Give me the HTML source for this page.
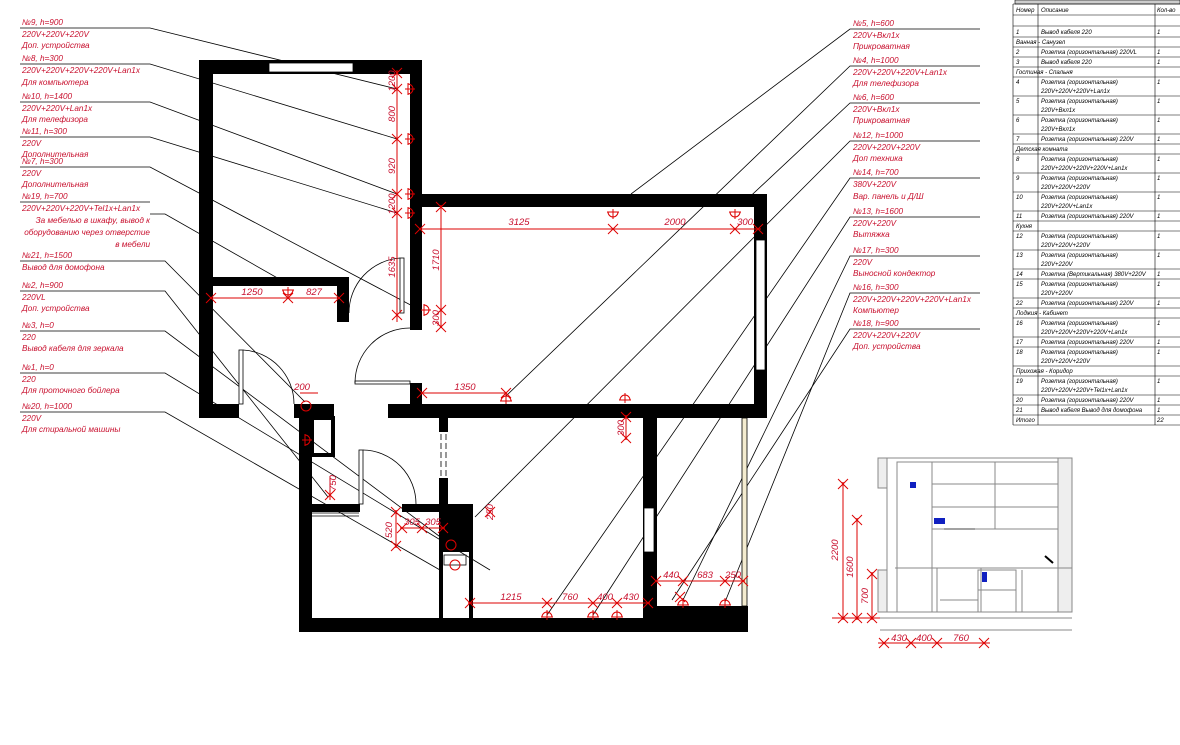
<!DOCTYPE html>
<html><head><meta charset="utf-8"><style>
html,body{margin:0;padding:0;background:#fff}
svg{display:block}
.t{font-family:"Liberation Sans","DejaVu Sans",sans-serif;font-style:italic;font-size:8.2px;fill:#c8102e}
.d{font-family:"Liberation Sans","DejaVu Sans",sans-serif;font-style:italic;font-size:9.5px;fill:#c8102e}
.tb{font-family:"Liberation Sans","DejaVu Sans",sans-serif;font-style:italic;font-size:6px;fill:#000}
</style></head><body>
<svg width="1180" height="745" viewBox="0 0 1180 745" xmlns="http://www.w3.org/2000/svg">
<defs>
<g id="x"><line x1="-5" y1="-5" x2="5" y2="5" stroke="#d00" stroke-width="1"/><line x1="-5" y1="5" x2="5" y2="-5" stroke="#d00" stroke-width="1"/></g>
<g id="s"><path d="M-5,0 A5,5 0 0 1 5,0 Z" fill="none" stroke="#d00" stroke-width="1"/><line x1="-6" y1="0" x2="6" y2="0" stroke="#d00"/><line x1="0" y1="-7" x2="0" y2="3" stroke="#d00"/></g>
</defs>

<g stroke="#000" stroke-width="0.8" fill="none">
<polyline points="20,28 150,28 397,89"/>
<polyline points="20,64 150,64 397,139"/>
<polyline points="20,102 150,102 397,194"/>
<polyline points="20,137 150,137 397,213"/>
<polyline points="20,167 150,167 420,310"/>
<polyline points="20,202 150,202"/><polyline points="150,214 165,214 288,284"/>
<polyline points="20,261 165,261 305,402"/>
<polyline points="20,291 165,291 328,497"/>
<polyline points="20,331 165,331 447,542"/>
<polyline points="20,373 165,373 490,570"/>
<polyline points="20,412 165,412 440,570"/>
<polyline points="980,29 850,29 631,194"/>
<polyline points="980,66 850,66 506,396"/>
<polyline points="980,103 850,103 740,206"/>
<polyline points="980,141 850,141 475,517"/>
<polyline points="980,178 850,178 547,615"/>
<polyline points="980,217 850,217 593,615"/>
<polyline points="980,256 850,256 683,600"/>
<polyline points="980,293 850,293 725,602"/>
<polyline points="980,329 850,329 672,600"/>
</g>

<g class="t">
<text x="22" y="25">№9,  h=900</text><text x="22" y="37">220V+220V+220V</text><text x="22" y="48">Доп. устройства</text>
<text x="22" y="61">№8,  h=300</text><text x="22" y="73">220V+220V+220V+220V+Lan1x</text><text x="22" y="85">Для компьютера</text>
<text x="22" y="99">№10,  h=1400</text><text x="22" y="111">220V+220V+Lan1x</text><text x="22" y="122">Для телефизора</text>
<text x="22" y="134">№11,  h=300</text><text x="22" y="146">220V</text><text x="22" y="157">Дополнительная</text>
<text x="22" y="164">№7,  h=300</text><text x="22" y="176">220V</text><text x="22" y="187">Дополнительная</text>
<text x="22" y="199">№19,  h=700</text><text x="22" y="211">220V+220V+220V+Tel1x+Lan1x</text>
<text x="150" y="223" text-anchor="end">За мебелью в шкафу, вывод к</text>
<text x="150" y="235" text-anchor="end">оборудованию через отверстие</text>
<text x="150" y="247" text-anchor="end">в мебели</text>
<text x="22" y="258">№21,  h=1500</text><text x="22" y="270">Вывод для домофона</text>
<text x="22" y="288">№2,  h=900</text><text x="22" y="300">220VL</text><text x="22" y="311">Доп. устройства</text>
<text x="22" y="328">№3,  h=0</text><text x="22" y="340">220</text><text x="22" y="351">Вывод кабеля для зеркала</text>
<text x="22" y="370">№1,  h=0</text><text x="22" y="382">220</text><text x="22" y="393">Для проточного бойлера</text>
<text x="22" y="409">№20,  h=1000</text><text x="22" y="421">220V</text><text x="22" y="432">Для стиральной машины</text>
</g>
<g class="t">
<text x="853" y="26">№5,  h=600</text><text x="853" y="38">220V+Вкл1х</text><text x="853" y="49">Прикроватная</text>
<text x="853" y="63">№4,  h=1000</text><text x="853" y="75">220V+220V+220V+Lan1x</text><text x="853" y="86">Для телефизора</text>
<text x="853" y="100">№6,  h=600</text><text x="853" y="112">220V+Вкл1х</text><text x="853" y="123">Прикроватная</text>
<text x="853" y="138">№12,  h=1000</text><text x="853" y="150">220V+220V+220V</text><text x="853" y="161">Доп техника</text>
<text x="853" y="175">№14,  h=700</text><text x="853" y="187">380V+220V</text><text x="853" y="199">Вар. панель и Д/Ш</text>
<text x="853" y="214">№13,  h=1600</text><text x="853" y="226">220V+220V</text><text x="853" y="237">Вытяжка</text>
<text x="853" y="253">№17,  h=300</text><text x="853" y="265">220V</text><text x="853" y="276">Выносной кондектор</text>
<text x="853" y="290">№16,  h=300</text><text x="853" y="302">220V+220V+220V+220V+Lan1x</text><text x="853" y="313">Компьютер</text>
<text x="853" y="326">№18,  h=900</text><text x="853" y="338">220V+220V+220V</text><text x="853" y="349">Доп. устройства</text>
</g>

<g fill="#000">
<rect x="199" y="60" width="223" height="14"/>
<rect x="199" y="60" width="14" height="358"/>
<rect x="410" y="60" width="12" height="270"/>
<rect x="213" y="277" width="132" height="9"/>
<rect x="337" y="277" width="12" height="45"/>
<rect x="199" y="404" width="40" height="14"/>
<rect x="294" y="404" width="40" height="14"/>
<rect x="410" y="194" width="357" height="13"/>
<rect x="754" y="194" width="13" height="224"/>
<rect x="410" y="383" width="12" height="22"/>
<rect x="388" y="404" width="379" height="14"/>
<rect x="299" y="404" width="13" height="228"/>
<rect x="299" y="618" width="449" height="14"/>
<rect x="657" y="606" width="91" height="26"/>
<rect x="643" y="418" width="14" height="200"/>
<rect x="312" y="418" width="21" height="37" fill="none" stroke="#000" stroke-width="4"/>
<rect x="312" y="504" width="48" height="8"/>
<rect x="402" y="504" width="46" height="8"/>
<rect x="439" y="418" width="9" height="14"/>
<rect x="439" y="478" width="9" height="26"/>
<rect x="439" y="504" width="34" height="48"/>
<rect x="469" y="552" width="4" height="66"/>
<rect x="439" y="552" width="4" height="66"/>
</g>
<g fill="#fff" stroke="#000" stroke-width="0.8">
<rect x="269" y="63" width="84" height="9"/>
<rect x="756" y="240" width="9" height="130"/>
<rect x="644" y="508" width="10" height="44"/>
<rect x="742" y="418" width="5" height="188" fill="#f4ecd0"/>
<rect x="239" y="350" width="4" height="54"/>
<rect x="400" y="258" width="4" height="55"/>
<rect x="355" y="381" width="55" height="3"/>
<rect x="359" y="450" width="4" height="54"/>
</g>
<g stroke="#000" stroke-width="0.8" fill="none">
<path d="M243,350 A54,54 0 0 1 294,404"/>
<path d="M349,313 A55,55 0 0 1 400,258"/>
<path d="M355,383 A55,55 0 0 1 410,328"/>
<path d="M363,450 A54,54 0 0 1 416,504"/>
<line x1="441" y1="434" x2="441" y2="476" stroke-dasharray="6,3"/>
<line x1="446" y1="434" x2="446" y2="476" stroke-dasharray="6,3"/>
<line x1="312" y1="513" x2="359" y2="513"/><line x1="312" y1="516" x2="359" y2="516"/>
<rect x="444" y="555" width="22" height="10"/>
</g>

<g stroke="#d00" stroke-width="1" fill="none">
<line x1="397" y1="70" x2="397" y2="322"/>
<line x1="420" y1="229" x2="761" y2="229"/>
<line x1="441" y1="205" x2="441" y2="328"/>
<line x1="210" y1="298" x2="340" y2="298"/>
<line x1="422" y1="393" x2="506" y2="393"/>
<line x1="468" y1="603" x2="650" y2="603"/>
<line x1="655" y1="581" x2="745" y2="581"/>
<line x1="626" y1="415" x2="626" y2="440"/>
<line x1="330" y1="476" x2="330" y2="500"/>
<line x1="396" y1="510" x2="396" y2="548"/>
<line x1="400" y1="528" x2="445" y2="528"/>
<line x1="300" y1="393" x2="318" y2="393"/>
</g>
<g>
<use href="#x" x="397" y="73"/><use href="#x" x="397" y="89"/><use href="#x" x="397" y="139"/><use href="#x" x="397" y="194"/><use href="#x" x="397" y="213"/><use href="#x" x="397" y="315"/>
<use href="#x" x="420" y="229"/><use href="#x" x="613" y="229"/><use href="#x" x="735" y="229"/><use href="#x" x="758" y="229"/>
<use href="#x" x="441" y="207"/><use href="#x" x="441" y="310"/><use href="#x" x="441" y="327"/>
<use href="#x" x="211" y="298"/><use href="#x" x="288" y="298"/><use href="#x" x="339" y="298"/>
<use href="#x" x="422" y="393"/><use href="#x" x="506" y="393"/>
<use href="#x" x="470" y="603"/><use href="#x" x="547" y="603"/><use href="#x" x="593" y="603"/><use href="#x" x="617" y="603"/><use href="#x" x="648" y="603"/>
<use href="#x" x="656" y="581"/><use href="#x" x="683" y="581"/><use href="#x" x="725" y="581"/><use href="#x" x="743" y="581"/>
<use href="#x" x="626" y="417"/><use href="#x" x="626" y="438"/>
<use href="#x" x="330" y="495"/><use href="#x" x="396" y="512"/><use href="#x" x="396" y="546"/>
<use href="#x" x="402" y="528"/><use href="#x" x="422" y="528"/><use href="#x" x="443" y="528"/>
<use href="#x" x="490" y="512"/><use href="#x" x="680" y="597"/>
<use href="#s" x="408" y="89" transform="rotate(90 408 89)"/><use href="#s" x="408" y="139" transform="rotate(90 408 139)"/>
<use href="#s" x="408" y="194" transform="rotate(90 408 194)"/><use href="#s" x="408" y="213" transform="rotate(90 408 213)"/>
<use href="#s" x="613" y="212" transform="rotate(180 613 212)"/><use href="#s" x="735" y="212" transform="rotate(180 735 212)"/>
<use href="#s" x="288" y="290" transform="rotate(180 288 290)"/><use href="#s" x="424" y="310" transform="rotate(90 424 310)"/>
<use href="#s" x="506" y="401"/><use href="#s" x="547" y="617"/><use href="#s" x="593" y="617"/><use href="#s" x="617" y="617"/>
<use href="#s" x="683" y="605"/><use href="#s" x="725" y="605"/><use href="#s" x="625" y="400"/>
<use href="#s" x="305" y="440" transform="rotate(90 305 440)"/>
</g>
<g fill="none" stroke="#d00" stroke-width="1">
<circle cx="306" cy="406" r="5"/><circle cx="451" cy="545" r="5"/><circle cx="455" cy="565" r="5"/>
</g>
<g class="d">
<text x="395" y="81" transform="rotate(-90 395 81)" text-anchor="middle">1200</text>
<text x="395" y="114" transform="rotate(-90 395 114)" text-anchor="middle">800</text>
<text x="395" y="166" transform="rotate(-90 395 166)" text-anchor="middle">920</text>
<text x="395" y="204" transform="rotate(-90 395 204)" text-anchor="middle">1200</text>
<text x="395" y="267" transform="rotate(-90 395 267)" text-anchor="middle">1635</text>
<text x="439" y="260" transform="rotate(-90 439 260)" text-anchor="middle">1710</text>
<text x="439" y="318" transform="rotate(-90 439 318)" text-anchor="middle">300</text>
<text x="519" y="225" text-anchor="middle">3125</text>
<text x="675" y="225" text-anchor="middle">2000</text>
<text x="745" y="225" text-anchor="middle">300</text>
<text x="252" y="295" text-anchor="middle">1250</text>
<text x="314" y="295" text-anchor="middle">827</text>
<text x="465" y="390" text-anchor="middle">1350</text>
<text x="302" y="390" text-anchor="middle">200</text>
<text x="511" y="600" text-anchor="middle">1215</text>
<text x="570" y="600" text-anchor="middle">760</text>
<text x="605" y="600" text-anchor="middle">400</text>
<text x="631" y="600" text-anchor="middle">430</text>
<text x="671" y="578" text-anchor="middle">440</text>
<text x="705" y="578" text-anchor="middle">683</text>
<text x="733" y="578" text-anchor="middle">250</text>
<text x="624" y="428" transform="rotate(-90 624 428)" text-anchor="middle">300</text>
<text x="336" y="483" transform="rotate(-90 336 483)" text-anchor="middle">750</text>
<text x="392" y="530" transform="rotate(-90 392 530)" text-anchor="middle">520</text>
<text x="412" y="525" text-anchor="middle">305</text>
<text x="433" y="525" text-anchor="middle">305</text>
<text x="493" y="512" transform="rotate(-90 493 512)" text-anchor="middle">250</text>
</g>

<g stroke="#888" stroke-width="1" fill="none">
<line x1="878" y1="458" x2="1072" y2="458"/>
<rect x="878" y="458" width="9" height="30" fill="#eee"/>
<rect x="878" y="570" width="9" height="42" fill="#eee"/>
<rect x="1058" y="458" width="14" height="154" fill="#eee"/>
<line x1="887" y1="458" x2="887" y2="612"/>
<rect x="897" y="462" width="35" height="150"/>
<rect x="932" y="462" width="126" height="67"/>
<line x1="995" y1="462" x2="995" y2="529"/>
<line x1="932" y1="484" x2="1058" y2="484"/>
<line x1="932" y1="507" x2="1058" y2="507"/>
<line x1="895" y1="568" x2="1072" y2="568"/>
<rect x="937" y="568" width="44" height="44"/>
<rect x="978" y="570" width="38" height="42"/>
<line x1="978" y1="590" x2="1016" y2="590"/>
<line x1="940" y1="600" x2="978" y2="600"/>
<line x1="1022" y1="570" x2="1022" y2="612"/>
<line x1="880" y1="612" x2="1072" y2="612"/>
<line x1="880" y1="618" x2="1072" y2="618"/>
<line x1="880" y1="630" x2="1072" y2="630"/>
<line x1="944" y1="529" x2="975" y2="529" stroke="#444"/>
<line x1="1045" y1="556" x2="1053" y2="563" stroke="#000" stroke-width="2"/>
</g>
<rect x="910" y="482" width="6" height="6" fill="#1020c0"/>
<rect x="934" y="518" width="11" height="6" fill="#1020c0"/>
<rect x="982" y="572" width="5" height="10" fill="#1020c0"/>
<g stroke="#d00" stroke-width="1">
<line x1="843" y1="482" x2="843" y2="620"/>
<line x1="857" y1="518" x2="857" y2="620"/>
<line x1="872" y1="572" x2="872" y2="620"/>
<line x1="832" y1="618" x2="880" y2="618"/>
<line x1="878" y1="643" x2="990" y2="643"/>
</g>
<use href="#x" x="843" y="484"/><use href="#x" x="857" y="520"/><use href="#x" x="872" y="574"/>
<use href="#x" x="843" y="618"/><use href="#x" x="857" y="618"/><use href="#x" x="872" y="618"/>
<use href="#x" x="884" y="643"/><use href="#x" x="911" y="643"/><use href="#x" x="937" y="643"/><use href="#x" x="984" y="643"/>
<g class="d">
<text x="838" y="550" transform="rotate(-90 838 550)" text-anchor="middle">2200</text>
<text x="853" y="567" transform="rotate(-90 853 567)" text-anchor="middle">1600</text>
<text x="868" y="596" transform="rotate(-90 868 596)" text-anchor="middle">700</text>
<text x="899" y="641" text-anchor="middle">430</text>
<text x="924" y="641" text-anchor="middle">400</text>
<text x="961" y="641" text-anchor="middle">760</text>
</g>

<g stroke="#000" stroke-width="0.6" fill="none">
<rect x="1015" y="0" width="165" height="4" fill="#ccc"/>
<line x1="1013" y1="4" x2="1013" y2="425"/>
<line x1="1038" y1="4" x2="1038" y2="425"/>
<line x1="1155" y1="4" x2="1155" y2="425"/>
<line x1="1013" y1="425" x2="1180" y2="425"/>
</g>
<g class="tb">
<text x="1016" y="12">Номер</text><text x="1041" y="12">Описание</text><text x="1157" y="12">Кол-во</text>
</g>
<g stroke="#000" stroke-width="0.6">
<line x1="1013" y1="4" x2="1180" y2="4"/><line x1="1013" y1="15" x2="1180" y2="15"/><line x1="1013" y1="26" x2="1180" y2="26"/>
<line x1="1013" y1="37" x2="1180" y2="37"/><line x1="1013" y1="47" x2="1180" y2="47"/><line x1="1013" y1="57" x2="1180" y2="57"/>
<line x1="1013" y1="67" x2="1180" y2="67"/><line x1="1013" y1="77" x2="1180" y2="77"/><line x1="1013" y1="96" x2="1180" y2="96"/>
<line x1="1013" y1="115" x2="1180" y2="115"/><line x1="1013" y1="134" x2="1180" y2="134"/><line x1="1013" y1="144" x2="1180" y2="144"/>
<line x1="1013" y1="154" x2="1180" y2="154"/><line x1="1013" y1="173" x2="1180" y2="173"/><line x1="1013" y1="192" x2="1180" y2="192"/>
<line x1="1013" y1="211" x2="1180" y2="211"/><line x1="1013" y1="221" x2="1180" y2="221"/><line x1="1013" y1="231" x2="1180" y2="231"/>
<line x1="1013" y1="250" x2="1180" y2="250"/><line x1="1013" y1="269" x2="1180" y2="269"/><line x1="1013" y1="279" x2="1180" y2="279"/>
<line x1="1013" y1="298" x2="1180" y2="298"/><line x1="1013" y1="308" x2="1180" y2="308"/><line x1="1013" y1="318" x2="1180" y2="318"/>
<line x1="1013" y1="337" x2="1180" y2="337"/><line x1="1013" y1="347" x2="1180" y2="347"/><line x1="1013" y1="366" x2="1180" y2="366"/>
<line x1="1013" y1="376" x2="1180" y2="376"/><line x1="1013" y1="395" x2="1180" y2="395"/><line x1="1013" y1="405" x2="1180" y2="405"/>
<line x1="1013" y1="415" x2="1180" y2="415"/>
</g>
<g fill="#fff">
<rect x="1038.5" y="37.5" width="116" height="9"/><rect x="1038.5" y="67.5" width="116" height="9"/>
<rect x="1038.5" y="144.5" width="116" height="9"/><rect x="1038.5" y="221.5" width="116" height="9"/>
<rect x="1038.5" y="308.5" width="116" height="9"/><rect x="1038.5" y="366.5" width="116" height="9"/>
</g>
<g class="tb">
<text x="1016" y="34">1</text><text x="1041" y="34">Вывод кабеля 220</text><text x="1157" y="34">1</text>
<text x="1016" y="44">Ванная - Санузел</text>
<text x="1016" y="54">2</text><text x="1041" y="54">Розетка (горизонтальная) 220VL</text><text x="1157" y="54">1</text>
<text x="1016" y="64">3</text><text x="1041" y="64">Вывод кабеля 220</text><text x="1157" y="64">1</text>
<text x="1016" y="74">Гостиная - Спальня</text>
<text x="1016" y="84">4</text><text x="1041" y="84">Розетка (горизонтальная)</text><text x="1041" y="93">220V+220V+220V+Lan1x</text><text x="1157" y="84">1</text>
<text x="1016" y="103">5</text><text x="1041" y="103">Розетка (горизонтальная)</text><text x="1041" y="112">220V+Вкл1х</text><text x="1157" y="103">1</text>
<text x="1016" y="122">6</text><text x="1041" y="122">Розетка (горизонтальная)</text><text x="1041" y="131">220V+Вкл1х</text><text x="1157" y="122">1</text>
<text x="1016" y="141">7</text><text x="1041" y="141">Розетка (горизонтальная) 220V</text><text x="1157" y="141">1</text>
<text x="1016" y="151">Детская комната</text>
<text x="1016" y="161">8</text><text x="1041" y="161">Розетка (горизонтальная)</text><text x="1041" y="170">220V+220V+220V+220V+Lan1x</text><text x="1157" y="161">1</text>
<text x="1016" y="180">9</text><text x="1041" y="180">Розетка (горизонтальная)</text><text x="1041" y="189">220V+220V+220V</text><text x="1157" y="180">1</text>
<text x="1016" y="199">10</text><text x="1041" y="199">Розетка (горизонтальная)</text><text x="1041" y="208">220V+220V+Lan1x</text><text x="1157" y="199">1</text>
<text x="1016" y="218">11</text><text x="1041" y="218">Розетка (горизонтальная) 220V</text><text x="1157" y="218">1</text>
<text x="1016" y="228">Кухня</text>
<text x="1016" y="238">12</text><text x="1041" y="238">Розетка (горизонтальная)</text><text x="1041" y="247">220V+220V+220V</text><text x="1157" y="238">1</text>
<text x="1016" y="257">13</text><text x="1041" y="257">Розетка (горизонтальная)</text><text x="1041" y="266">220V+220V</text><text x="1157" y="257">1</text>
<text x="1016" y="276">14</text><text x="1041" y="276">Розетка (Вертикальная) 380V+220V</text><text x="1157" y="276">1</text>
<text x="1016" y="286">15</text><text x="1041" y="286">Розетка (горизонтальная)</text><text x="1041" y="295">220V+220V</text><text x="1157" y="286">1</text>
<text x="1016" y="305">22</text><text x="1041" y="305">Розетка (горизонтальная) 220V</text><text x="1157" y="305">1</text>
<text x="1016" y="315">Лоджия - Кабинет</text>
<text x="1016" y="325">16</text><text x="1041" y="325">Розетка (горизонтальная)</text><text x="1041" y="334">220V+220V+220V+220V+Lan1x</text><text x="1157" y="325">1</text>
<text x="1016" y="344">17</text><text x="1041" y="344">Розетка (горизонтальная) 220V</text><text x="1157" y="344">1</text>
<text x="1016" y="354">18</text><text x="1041" y="354">Розетка (горизонтальная)</text><text x="1041" y="363">220V+220V+220V</text><text x="1157" y="354">1</text>
<text x="1016" y="373">Прихожая - Коридор</text>
<text x="1016" y="383">19</text><text x="1041" y="383">Розетка (горизонтальная)</text><text x="1041" y="392">220V+220V+220V+Tel1x+Lan1x</text><text x="1157" y="383">1</text>
<text x="1016" y="402">20</text><text x="1041" y="402">Розетка (горизонтальная) 220V</text><text x="1157" y="402">1</text>
<text x="1016" y="412">21</text><text x="1041" y="412">Вывод кабеля Вывод для домофона</text><text x="1157" y="412">1</text>
<text x="1016" y="422">Итого</text><text x="1157" y="422">22</text>
</g>
</svg>
</body></html>
